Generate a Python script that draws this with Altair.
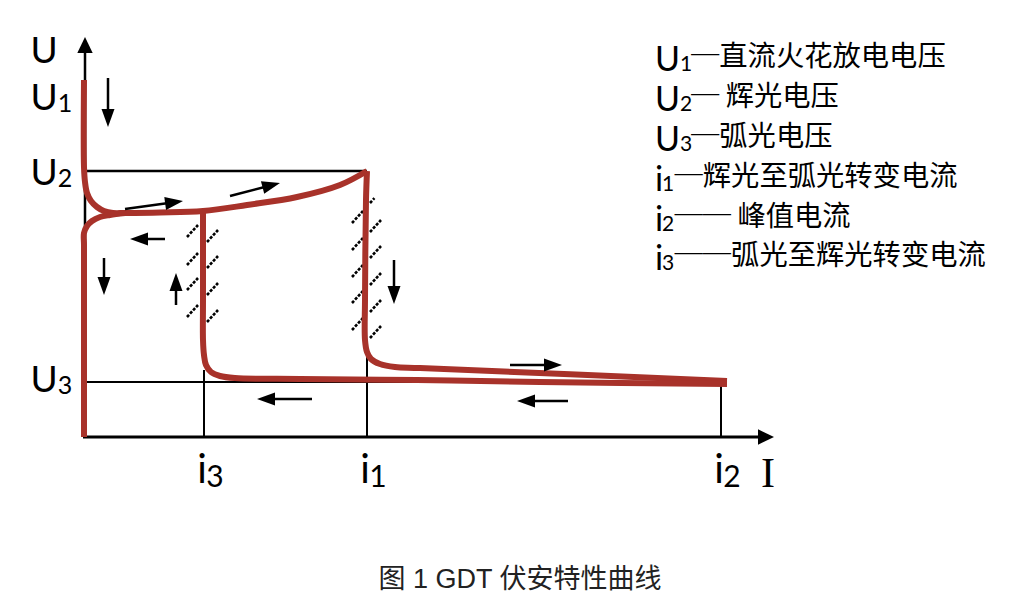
import math
import altair as alt
import pandas as pd

# ---------------- values (I to the right, U upward, origin at the axes' corner)
I_TICK_NAMES = ["3", "1", "2"]          # i3, i1, i2
I_TICKS = [119, 282, 636]
U_TICK_NAMES = ["1", "2", "3"]          # U1, U2, U3
U_TICKS = [357, 266, 55]
U_LABEL_BASE = [327, 252, 45]
I_AXIS_END = 689
U_AXIS_END = 400

# red characteristic, branch by branch
A_I = [-1, -1, 0, 2, 6, 12, 19, 28, 40, 75, 118, 162, 212, 255, 282]
A_U = [357, 270, 255, 244, 236, 230, 226, 224, 224, 224.5, 226, 232, 240, 252, 266]
B_I = [282, 281, 280, 280, 282, 286, 295, 310, 335, 642]
B_U = [266, 237, 137, 97, 85, 78, 73, 70, 69, 56]
C_I = [642, 455, 332, 215, 150, 135, 126, 121, 119, 118, 118, 118]
C_U = [53, 55, 57, 58, 59, 61, 65, 72, 82, 97, 137, 226]
D_I = [40, 25, 15, 7, 2, -1, -1, -1, -1]
D_U = [224, 222, 220, 216, 211, 204, 192, 137, 0]

# hatching beside the two unstable transitions (lower-left ends)
HATCH_I = [102, 102, 102, 102, 122, 122, 122, 122, 267, 267, 267, 267, 267, 285, 285, 285, 285, 285, 285]
HATCH_U = [200, 172, 147, 120, 195, 169, 142, 115, 214, 187, 160, 134, 107, 205, 179, 152, 125, 99, 234]
HATCH_LEN = [1] * 18 + [0.4]

# direction arrows (tail -> tip)
ARROW_FROM_I = [23, 40, 145, 80, 19, 91, 309, 425, 483, 227]
ARROW_FROM_U = [359, 228, 241, 198, 179, 132, 177, 72, 36, 38]
ARROW_TO_I = [23, 98, 195, 45, 19, 91, 309, 477, 432, 172]
ARROW_TO_U = [310, 236, 254, 198, 142, 164, 133, 72, 36, 38]

# legend
LEGEND_SYMBOL = ["U", "U", "U", "i", "i", "i"]
LEGEND_SUB = ["1", "2", "3", "1", "2", "3"]
LEGEND_TEXT = ["─直流火花放电电压", "─ 辉光电压", "─弧光电压",
               "─辉光至弧光转变电流", "── 峰值电流", "──弧光至辉光转变电流"]
LEGEND_U = [379, 339, 299, 259, 219, 180]

CAPTION = "图 1 GDT 伏安特性曲线"

# ---------------- styling / layout
RED = "#A8322A"
W, H = 1008, 595
X_DOM = [-77, 931]
Y_DOM = [-166, 429]
LATIN = "Lato"
CJK = "Noto Sans CJK SC"
HEAD = "M0,0L0.36,1L-0.36,1Z"
AXIS_HEAD = "M0,0L0.48,1L-0.48,1Z"


def X(f):
    return alt.X(f, type="quantitative", scale=alt.Scale(domain=X_DOM, nice=False, zero=False), axis=None)


def Y(f):
    return alt.Y(f, type="quantitative", scale=alt.Scale(domain=Y_DOM, nice=False, zero=False), axis=None)


U1, U2, U3 = U_TICKS
i3, i1, i2 = I_TICKS

# black guide lines
guides = pd.DataFrame([
    dict(a=0, b=0, a2=0, b2=U_AXIS_END - 12, w=2.5),
    dict(a=-2, b=0, a2=I_AXIS_END - 12, b2=0, w=3),
    dict(a=0, b=U2, a2=i1, b2=U2, w=2.5),
    dict(a=0, b=U3, a2=i2, b2=U3, w=2),
    dict(a=i3, b=0, a2=i3, b2=U3 + 12, w=2),
    dict(a=i1, b=0, a2=i1, b2=U3 + 30, w=2),
    dict(a=i2, b=0, a2=i2, b2=U3, w=2),
])
guide_layer = alt.Chart(guides).mark_rule(color="black", strokeCap="butt").encode(
    x=X("a"), y=Y("b"), x2="a2", y2="b2", strokeWidth=alt.StrokeWidth("w:Q", scale=None))

axis_heads = pd.DataFrame([
    dict(a=0, b=U_AXIS_END, ang=0),
    dict(a=I_AXIS_END, b=0, ang=90),
])
axis_head_layer = alt.Chart(axis_heads).mark_point(
    shape=AXIS_HEAD, filled=True, size=(2 * 16) ** 2, color="black", opacity=1, strokeWidth=0
).encode(x=X("a"), y=Y("b"), angle=alt.Angle("ang:Q", scale=None))

# hatching
hrows = []
for hi, hu, hl in zip(HATCH_I, HATCH_U, HATCH_LEN):
    hrows.append(dict(a=hi, b=hu, a2=hi + 11 * hl, b2=hu + 12 * hl))
hatch_layer = alt.Chart(pd.DataFrame(hrows)).mark_rule(
    color="black", strokeWidth=2.6, strokeDash=[3, 1.5], strokeCap="butt"
).encode(x=X("a"), y=Y("b"), x2="a2", y2="b2")

# red curve
crow = []
for name, ii, uu in [("A", A_I, A_U), ("B", B_I, B_U), ("C", C_I, C_U), ("D", D_I, D_U)]:
    for k, (a, b) in enumerate(zip(ii, uu)):
        crow.append(dict(seg=name, k=k, a=a, b=b))
curve_layer = alt.Chart(pd.DataFrame(crow)).mark_line(
    color=RED, strokeWidth=6, interpolate="catmull-rom", strokeCap="butt", strokeJoin="round"
).encode(x=X("a"), y=Y("b"), detail="seg:N", order="k:Q")

# arrows
HEAD_LEN = 18
shafts, heads = [], []
for fa, fb, ta, tb in zip(ARROW_FROM_I, ARROW_FROM_U, ARROW_TO_I, ARROW_TO_U):
    dx, dy = ta - fa, tb - fb
    n = math.hypot(dx, dy)
    ux, uy = dx / n, dy / n
    shafts.append(dict(a=fa, b=fb, a2=ta - ux * HEAD_LEN * 0.6, b2=tb - uy * HEAD_LEN * 0.6))
    heads.append(dict(a=ta, b=tb, ang=(math.degrees(math.atan2(dx, dy)) + 360) % 360))
shaft_layer = alt.Chart(pd.DataFrame(shafts)).mark_rule(color="black", strokeWidth=2.5, strokeCap="butt").encode(
    x=X("a"), y=Y("b"), x2="a2", y2="b2")
head_layer = alt.Chart(pd.DataFrame(heads)).mark_point(
    shape=HEAD, filled=True, size=(2 * HEAD_LEN) ** 2, color="black", opacity=1, strokeWidth=0
).encode(x=X("a"), y=Y("b"), angle=alt.Angle("ang:Q", scale=None))

# axis labels
big = [dict(a=-41, b=U_AXIS_END - 26, t="U", s=37)]
subs = []
for name, base in zip(U_TICK_NAMES, U_LABEL_BASE):
    big.append(dict(a=-41, b=base, t="U", s=37))
    subs.append(dict(a=-20, b=base - 2, t=name, s=25))
for name, tick in zip(I_TICK_NAMES, I_TICKS):
    big.append(dict(a=tick - 2, b=-46, t="i", s=40))
    subs.append(dict(a=tick + 11, b=-50, t=name, s=30))
big_layer = alt.Chart(pd.DataFrame(big)).mark_text(font=LATIN, align="center", baseline="alphabetic", color="black").encode(
    x=X("a"), y=Y("b"), text="t:N", size=alt.Size("s:Q", scale=None))
sub_layer = alt.Chart(pd.DataFrame(subs)).mark_text(font=LATIN, align="center", baseline="alphabetic", color="black").encode(
    x=X("a"), y=Y("b"), text="t:N", size=alt.Size("s:Q", scale=None))
i_layer = alt.Chart(pd.DataFrame([dict(a=I_AXIS_END - 6, b=-50, t="I")])).mark_text(
    font="Liberation Serif", fontSize=42, align="center", baseline="alphabetic", color="black"
).encode(x=X("a"), y=Y("b"), text="t:N")

# legend
lsym, lsub, ltxt = [], [], []
for sym, sb, tx, lu in zip(LEGEND_SYMBOL, LEGEND_SUB, LEGEND_TEXT, LEGEND_U):
    wide = sym == "U"
    lsym.append(dict(a=570, b=lu - 13, t=sym))
    lsub.append(dict(a=595 if wide else 577, b=lu - 13, t=sb))
    ltxt.append(dict(a=606 if wide else 589.5, b=lu, t=tx))
leg_sym = alt.Chart(pd.DataFrame(lsym)).mark_text(font=LATIN, fontSize=34, align="left", baseline="alphabetic", color="black").encode(
    x=X("a"), y=Y("b"), text="t:N")
leg_sub = alt.Chart(pd.DataFrame(lsub)).mark_text(font=LATIN, fontSize=21, align="left", baseline="alphabetic", color="black").encode(
    x=X("a"), y=Y("b"), text="t:N")
leg_txt = alt.Chart(pd.DataFrame(ltxt)).mark_text(font=CJK, fontSize=28.3, align="left", baseline="middle", color="black").encode(
    x=X("a"), y=Y("b"), text="t:N")

cap_layer = alt.Chart(pd.DataFrame([dict(a=435, b=-143, t=CAPTION)])).mark_text(
    font="Liberation Sans, Noto Sans CJK SC", fontSize=27, align="center", baseline="middle", color="#222222"
).encode(x=X("a"), y=Y("b"), text="t:N")

chart = alt.layer(
    guide_layer, axis_head_layer, hatch_layer, curve_layer, shaft_layer, head_layer,
    big_layer, sub_layer, i_layer, leg_sym, leg_sub, leg_txt, cap_layer
).properties(width=W, height=H, padding=0, autosize="none", background="white").configure_view(stroke=None)

chart.save("out.html", embed_options={"renderer": "svg", "actions": False})
